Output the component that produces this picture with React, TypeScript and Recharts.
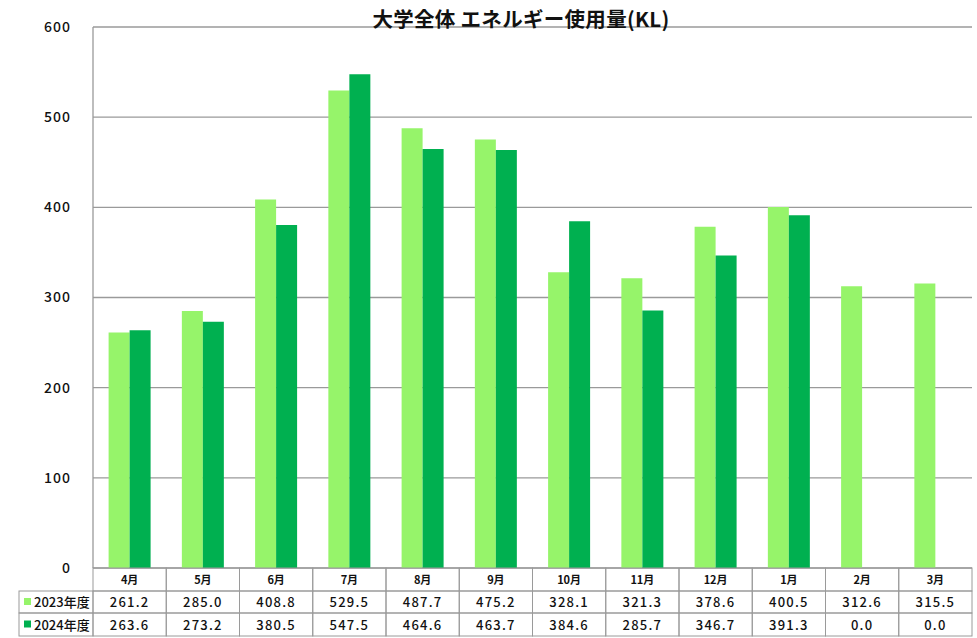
import { Bar, BarChart, CartesianGrid, XAxis, YAxis } from "recharts";

const months = ["4月", "5月", "6月", "7月", "8月", "9月", "10月", "11月", "12月", "1月", "2月", "3月"];
const fy2023 = [261.2, 285.0, 408.8, 529.5, 487.7, 475.2, 328.1, 321.3, 378.6, 400.5, 312.6, 315.5];
const fy2024 = [263.6, 273.2, 380.5, 547.5, 464.6, 463.7, 384.6, 285.7, 346.7, 391.3, 0.0, 0.0];
const seriesNames = ["2023年度", "2024年度"];
const yTicks = [0, 100, 200, 300, 400, 500, 600];
const title = "大学全体 エネルギー使用量(KL)";

const data = months.map((m, i) => ({ month: m, a: fy2023[i], b: fy2024[i] }));

const W = 977;
const H = 638;
const LEFT = 93;
const RIGHT = 5;
const TOP = 27;
const TABLE_H = 70;
const PLOT_W = W - LEFT - RIGHT;
const FONT = '"Noto Sans CJK JP", "Noto Sans", sans-serif';
const GRID = "#9a9a9a";
const COLORS = ["#96F46A", "#00B050"];
const ROW_H = [23, 22, 23];

function TableTick(props: any) {
  const { x, y, payload } = props;
  const i = months.indexOf(payload.value);
  const colW = PLOT_W / months.length;
  const left = x - colW / 2;
  const rows = [fy2023, fy2024];
  const y1 = y + ROW_H[0];
  const y2 = y1 + ROW_H[1];
  const rowTops = [y1, y2];
  return (
    <g fontFamily={FONT}>
      <rect x={left} y={y} width={colW} height={ROW_H[0]} fill="none" stroke={GRID} />
      <text x={x} y={y + ROW_H[0] / 2 + 4} textAnchor="middle" fontSize={11} fontWeight={700} fill="#111">
        {payload.value}
      </text>
      {rows.map((r, k) => (
        <g key={k}>
          <rect x={left} y={rowTops[k]} width={colW} height={ROW_H[k + 1]} fill="none" stroke={GRID} />
          <text
            x={x}
            y={rowTops[k] + ROW_H[k + 1] / 2 + 5}
            textAnchor="middle"
            fontSize={13}
            fontWeight={500}
            letterSpacing={1.2}
            fill="#111"
          >
            {r[i].toFixed(1)}
          </text>
        </g>
      ))}
      {i === 0 &&
        seriesNames.map((name, k) => (
          <g key={name}>
            <rect x={19} y={rowTops[k]} width={left - 19} height={ROW_H[k + 1]} fill="none" stroke={GRID} />
            <rect x={24} y={rowTops[k] + ROW_H[k + 1] / 2 - 4} width={7} height={7} fill={COLORS[k]} />
            <text x={34} y={rowTops[k] + ROW_H[k + 1] / 2 + 5} fontSize={13} fontWeight={500} fill="#111">
              {name}
            </text>
          </g>
        ))}
    </g>
  );
}

export default function App() {
  return (
    <div style={{ position: "absolute", left: 0, top: 0, width: W, height: H, background: "#fff" }}>
      <div
        style={{
          position: "absolute",
          left: 0,
          top: 3,
          width: 1042,
          textAlign: "center",
          fontFamily: FONT,
          fontWeight: 700,
          fontSize: 20.5,
          letterSpacing: 0.3,
          whiteSpace: "pre",
          color: "#111",
          zIndex: 1,
        }}
      >
        {title}
      </div>
      <BarChart
        width={W}
        height={H}
        data={data}
        margin={{ top: TOP, right: RIGHT, left: 0, bottom: 0 }}
        barCategoryGap="21.3%"
        barGap={0}
      >
        <CartesianGrid yAxisId="left" vertical={false} stroke={GRID} strokeWidth={1.3} />
        <XAxis
          dataKey="month"
          height={TABLE_H}
          interval={0}
          axisLine={false}
          tickLine={false}
          tickSize={0}
          tickMargin={0}
          tick={<TableTick />}
        />
        <YAxis
          yAxisId="left"
          width={LEFT}
          domain={[0, 600]}
          ticks={yTicks}
          axisLine={{ stroke: GRID, strokeWidth: 1.3 }}
          tickLine={false}
          tickMargin={16}
          tick={{ fontFamily: FONT, fontSize: 14, fontWeight: 500, fill: "#111", letterSpacing: 1 }}
        />
        <YAxis
          yAxisId="right"
          orientation="right"
          width={0}
          domain={[0, 600]}
          tick={false}
          tickLine={false}
          axisLine={{ stroke: GRID, strokeWidth: 1.3 }}
        />
        <Bar yAxisId="left" dataKey="a" name={seriesNames[0]} fill={COLORS[0]} isAnimationActive={false} />
        <Bar yAxisId="left" dataKey="b" name={seriesNames[1]} fill={COLORS[1]} isAnimationActive={false} />
      </BarChart>
    </div>
  );
}
